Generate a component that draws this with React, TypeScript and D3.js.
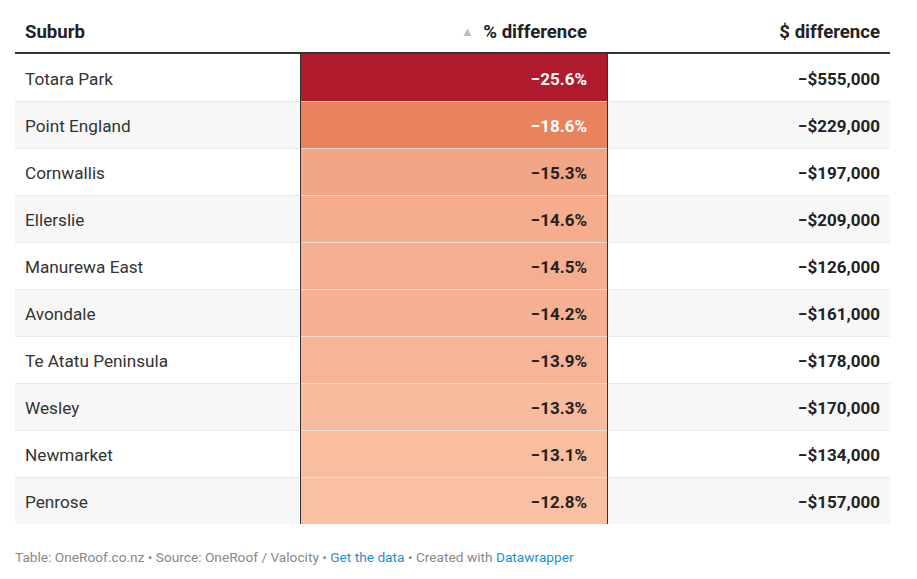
import React from "react";
import * as d3 from "d3";

const suburbs = ["Totara Park","Point England","Cornwallis","Ellerslie","Manurewa East","Avondale","Te Atatu Peninsula","Wesley","Newmarket","Penrose"];
const pctDiff = [-25.6,-18.6,-15.3,-14.6,-14.5,-14.2,-13.9,-13.3,-13.1,-12.8];
const dollarDiff = [-555000,-229000,-197000,-209000,-126000,-161000,-178000,-170000,-134000,-157000];
const headers = ["Suburb","% difference","$ difference"];

const W = 917, H = 579;
const left = 15, right = 890;
const headerBottom = 54;
const rowH = 47;
const colStart = 300, colEnd = 608;

export default function App() {
  const y = d3.scaleBand<number>().domain(d3.range(suburbs.length)).range([headerBottom, headerBottom + rowH * suburbs.length]);
  const color = d3.scaleLinear<string>().domain([-25.6, -18.6, -12.8]).range(["#b01a2d", "#e9835e", "#fac0a3"]).interpolate(d3.interpolateRgb).clamp(true);
  const fmtPct = (v: number) => "\u2212" + Math.abs(v).toFixed(1) + "%";
  const fmtD = (v: number) => "\u2212$" + d3.format(",")(Math.abs(v));
  const font = "Roboto, sans-serif";
  const tableBottom = headerBottom + rowH * suburbs.length;
  return (
    <svg width={W} height={H} style={{ position: "absolute", left: 0, top: 0, background: "#fff" }} fontFamily={font}>
      <rect width={W} height={H} fill="#fff" />
      <text x={25} y={38} fontSize={18.6} fontWeight={700} fill="#222">{headers[0]}</text>
      <text x={461} y={36} fontSize={13} fill="#bbb">▲</text>
      <text x={587} y={38} fontSize={18.6} fontWeight={700} fill="#222" textAnchor="end">{headers[1]}</text>
      <text x={880} y={38} fontSize={18.6} fontWeight={700} fill="#222" textAnchor="end">{headers[2]}</text>
      {suburbs.map((s, i) => {
        const y0 = y(i)!;
        const light = color(pctDiff[i]);
        const dark = pctDiff[i] < -17;
        return (
          <g key={s}>
            <rect x={left} y={y0} width={right - left} height={rowH} fill={i % 2 === 1 ? "#f7f7f7" : "#ffffff"} />
            <rect x={colStart} y={y0} width={colEnd - colStart} height={rowH} fill={light} />
            {i > 0 && <line x1={left} x2={right} y1={y0 + 0.5} y2={y0 + 0.5} stroke="#e6e6e6" strokeOpacity={0.8} />}
            <text x={25} y={y0 + 31} fontSize={17.2} fill="#333">{s}</text>
            <text x={587} y={y0 + 31} fontSize={17} fontWeight={700} fill={dark ? "#fff" : "#222"} textAnchor="end">{fmtPct(pctDiff[i])}</text>
            <text x={880} y={y0 + 31} fontSize={17} fontWeight={700} fill="#222" textAnchor="end">{fmtD(dollarDiff[i])}</text>
          </g>
        );
      })}
      <line x1={colStart + 0.5} x2={colStart + 0.5} y1={headerBottom} y2={tableBottom} stroke="#333" />
      <line x1={colEnd - 0.5} x2={colEnd - 0.5} y1={headerBottom} y2={tableBottom} stroke="#333" />
      <line x1={left} x2={right} y1={headerBottom - 1} y2={headerBottom - 1} stroke="#333" strokeWidth={2} />
      <text x={15} y={562} fontSize={13.7} fill="#888">
        <tspan>Table: OneRoof.co.nz • Source: OneRoof / Valocity • </tspan>
        <tspan fill="#1d8fd0">Get the data</tspan>
        <tspan> • Created with </tspan>
        <tspan fill="#1d8fd0">Datawrapper</tspan>
      </text>
    </svg>
  );
}
